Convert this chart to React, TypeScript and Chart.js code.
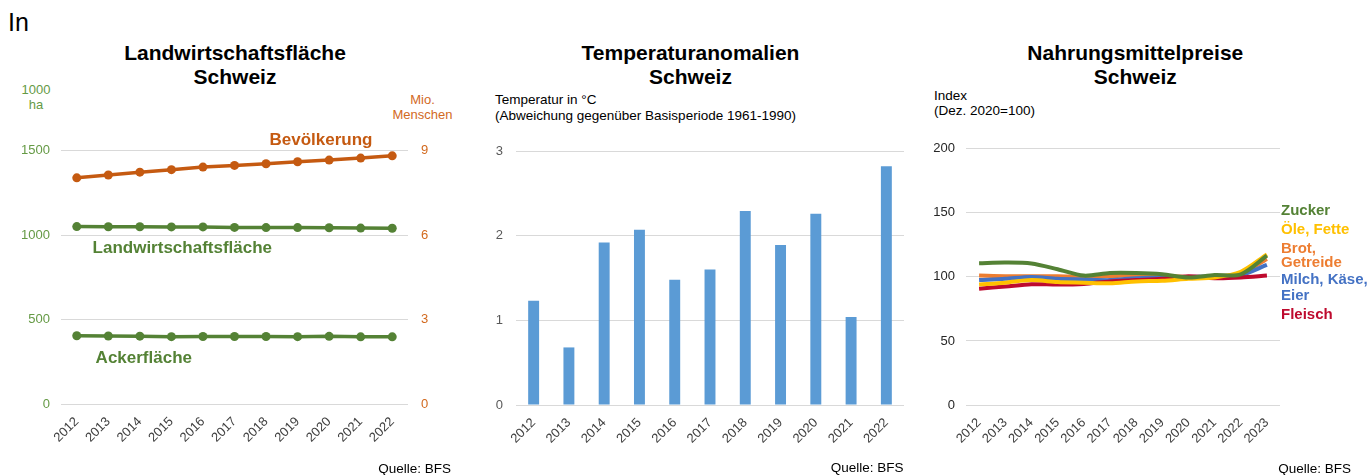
import React, { useEffect, useRef } from 'react';
import { Chart, registerables } from 'chart.js';
Chart.register(...registerables);

const FONT = '"Liberation Sans", Arial, Helvetica, sans-serif';
Chart.defaults.font.family = FONT;

// ---------- Data ----------
const years1 = ['2012', '2013', '2014', '2015', '2016', '2017', '2018', '2019', '2020', '2021', '2022'];
const population = [8.04, 8.14, 8.24, 8.33, 8.42, 8.48, 8.54, 8.61, 8.67, 8.74, 8.82];
const farmland = [1051, 1050, 1050, 1049, 1049, 1046, 1045, 1045, 1044, 1042, 1041];
const arable = [404, 403, 402, 399, 400, 400, 400, 399, 401, 398, 398];

const years2 = ['2012', '2013', '2014', '2015', '2016', '2017', '2018', '2019', '2020', '2021', '2022'];
const tempAnomaly = [1.23, 0.68, 1.92, 2.07, 1.48, 1.6, 2.29, 1.89, 2.26, 1.04, 2.82];

const years3 = ['2012', '2013', '2014', '2015', '2016', '2017', '2018', '2019', '2020', '2021', '2022', '2023'];
const sugar = [110.7, 111.2, 110.5, 106, 101, 103, 103, 102, 99.5, 101.5, 102, 116.6];
const oils = [94, 95.5, 97.5, 96, 95.5, 95, 96.5, 97, 98.5, 99.5, 104, 117.5];
const bread = [101, 100.5, 100.5, 100.5, 100, 100.5, 101.5, 101, 100, 100.5, 102.5, 114];
const dairy = [97.5, 98.5, 100, 98.5, 98, 97.5, 99, 99.5, 100, 100.5, 101.5, 109.4];
const meat = [90.8, 92.5, 94.3, 94, 94.5, 96.5, 97.5, 98.5, 100.5, 99, 99.5, 101];

const ticks1Left = { min: 0, max: 1500, step: 500 };
const ticks1Right = { min: 0, max: 9, step: 3 };
const ticks2 = { min: 0, max: 3, step: 1 };
const ticks3 = { min: 0, max: 200, step: 50 };

// ---------- Styles ----------
const GRID = '#D9D9D9';
const XLBL = '#404040';
const GREEN = '#548235';
const GREEN_TXT = '#659A45';
const ORANGE = '#C55A11';
const ORANGE_TXT = '#D2691E';
const BLUE_BAR = '#5B9BD5';
const C_SUGAR = '#548235';
const C_OILS = '#FFC000';
const C_BREAD = '#ED7D31';
const C_DAIRY = '#4472C4';
const C_MEAT = '#BE0A2E';

const tickFont = { size: 13, family: FONT };

const xAxis = (h: number) => ({
  type: 'category' as const,
  offset: true,
  grid: { display: false, drawTicks: false },
  border: { display: false },
  ticks: { color: XLBL, font: tickFont, minRotation: 45, maxRotation: 45, padding: 10, autoSkip: false },
  afterFit: (s: any) => { s.height = h; },
});

const yAxis = (pos: 'left' | 'right', t: { min: number; max: number; step: number }, color: string, w: number, pad: number, grid: boolean) => ({
  position: pos,
  min: t.min,
  max: t.max,
  grid: { display: grid, color: GRID, lineWidth: 1, drawTicks: false },
  border: { display: false },
  ticks: { stepSize: t.step, color, font: tickFont, padding: pad, callback: (v: any) => String(v) },
  afterFit: (s: any) => { s.width = w; },
});

const basePlugins = { legend: { display: false }, tooltip: { enabled: false } };

function config1(): any {
  const green = { borderColor: GREEN, backgroundColor: GREEN, pointBackgroundColor: GREEN, borderWidth: 3.5, pointRadius: 4.5, pointHoverRadius: 4.5, pointBorderWidth: 0, yAxisID: 'y' };
  return {
    type: 'line',
    data: {
      labels: years1,
      datasets: [
        { data: population, yAxisID: 'yR', borderColor: ORANGE, backgroundColor: ORANGE, pointBackgroundColor: ORANGE, borderWidth: 3.5, pointRadius: 4.5, pointHoverRadius: 4.5, pointBorderWidth: 0 },
        { data: farmland, ...green },
        { data: arable, ...green },
      ],
    },
    options: {
      responsive: false,
      animation: false,
      layout: { padding: { top: 20, left: 0, right: 0, bottom: 0 } },
      plugins: basePlugins,
      scales: {
        x: xAxis(71),
        y: yAxis('left', ticks1Left, GREEN_TXT, 61, 11, true),
        yR: yAxis('right', ticks1Right, ORANGE_TXT, 52, 13, false),
      },
    },
  };
}

function config2(): any {
  return {
    type: 'bar',
    data: {
      labels: years2,
      datasets: [{ data: tempAnomaly, backgroundColor: BLUE_BAR, borderWidth: 0, barPercentage: 0.31, categoryPercentage: 1 }],
    },
    options: {
      responsive: false,
      animation: false,
      layout: { padding: { top: 21, left: 0, right: 16, bottom: 0 } },
      plugins: basePlugins,
      scales: {
        x: xAxis(70),
        y: yAxis('left', ticks2, '#595959', 56, 13, true),
      },
    },
  };
}

function config3(): any {
  const ln = (data: number[], color: string) => ({ data, borderColor: color, backgroundColor: color, borderWidth: 4, pointRadius: 0, pointHoverRadius: 0, tension: 0.3 });
  return {
    type: 'line',
    data: {
      labels: years3,
      datasets: [ln(sugar, C_SUGAR), ln(oils, C_OILS), ln(meat, C_MEAT), ln(dairy, C_DAIRY), ln(bread, C_BREAD)],
    },
    options: {
      responsive: false,
      animation: false,
      layout: { padding: { top: 16, left: 0, right: 91, bottom: 0 } },
      plugins: basePlugins,
      scales: {
        x: xAxis(70),
        y: yAxis('left', ticks3, '#262626', 46, 11, true),
      },
    },
  };
}

function ChartCanvas({ left, top, width, height, make }: { left: number; top: number; width: number; height: number; make: () => any }) {
  const ref = useRef<HTMLCanvasElement>(null);
  useEffect(() => {
    const chart = new Chart(ref.current as HTMLCanvasElement, make());
    return () => chart.destroy();
  }, []);
  return <canvas ref={ref} width={width} height={height} style={{ position: 'absolute', left, top, width, height }} />;
}

function Label({ x, baseline, size, text, color = '#000', bold = false, align = 'left' }: { x: number; baseline: number; size: number; text: string; color?: string; bold?: boolean; align?: 'left' | 'center' | 'right' }) {
  const lh = size * 1.15;
  const top = baseline - ((lh - 1.117 * size) / 2 + 0.905 * size);
  const tx = align === 'center' ? 'translateX(-50%)' : align === 'right' ? 'translateX(-100%)' : 'none';
  return (
    <div style={{ position: 'absolute', left: x, top, fontFamily: FONT, fontSize: size, lineHeight: `${lh}px`, fontWeight: bold ? 700 : 400, color, whiteSpace: 'nowrap', transform: tx }}>
      {text}
    </div>
  );
}

export default function App() {
  return (
    <div style={{ position: 'absolute', left: 0, top: 0, width: 1371, height: 475, background: '#fff', overflow: 'hidden' }}>
      <Label x={8} baseline={31} size={25} text="In" />

      {/* Panel 1 */}
      <Label x={235} baseline={60} size={21} bold align="center" text="Landwirtschaftsfläche" />
      <Label x={235} baseline={84} size={21} bold align="center" text="Schweiz" />
      <Label x={36} baseline={95} size={13} align="center" color={GREEN_TXT} text="1000" />
      <Label x={36} baseline={109.5} size={13} align="center" color={GREEN_TXT} text="ha" />
      <Label x={422.5} baseline={104.5} size={13} align="center" color={ORANGE_TXT} text="Mio." />
      <Label x={422.5} baseline={120} size={13} align="center" color={ORANGE_TXT} text="Menschen" />
      <ChartCanvas left={0} top={130} width={460} height={345} make={config1} />
      <Label x={321} baseline={145.5} size={17} bold align="center" color={ORANGE} text="Bevölkerung" />
      <Label x={182.3} baseline={253.5} size={17} bold align="center" color={GREEN} text="Landwirtschaftsfläche" />
      <Label x={143.8} baseline={363.5} size={17} bold align="center" color={GREEN} text="Ackerfläche" />
      <Label x={451} baseline={473} size={13.5} align="right" color="#000" text="Quelle: BFS" />

      {/* Panel 2 */}
      <Label x={690.5} baseline={60} size={21} bold align="center" text="Temperaturanomalien" />
      <Label x={690.5} baseline={84} size={21} bold align="center" text="Schweiz" />
      <Label x={495} baseline={104.5} size={13.5} text="Temperatur in °C" />
      <Label x={495} baseline={120} size={13.5} text="(Abweichung gegenüber Basisperiode 1961-1990)" />
      <ChartCanvas left={460} top={130} width={460} height={345} make={config2} />
      <Label x={903.5} baseline={472} size={13.5} align="right" color="#000" text="Quelle: BFS" />

      {/* Panel 3 */}
      <Label x={1135.3} baseline={60} size={21} bold align="center" text="Nahrungsmittelpreise" />
      <Label x={1135.3} baseline={84} size={21} bold align="center" text="Schweiz" />
      <Label x={934} baseline={100.5} size={13.5} text="Index" />
      <Label x={934} baseline={115.5} size={13.5} text="(Dez. 2020=100)" />
      <ChartCanvas left={920} top={130} width={451} height={345} make={config3} />
      <Label x={1281} baseline={215} size={15} bold color={C_SUGAR} text="Zucker" />
      <Label x={1281} baseline={233.5} size={15} bold color={C_OILS} text="Öle, Fette" />
      <Label x={1281} baseline={252.7} size={15} bold color={C_BREAD} text="Brot," />
      <Label x={1281} baseline={267.3} size={15} bold color={C_BREAD} text="Getreide" />
      <Label x={1281} baseline={284.3} size={15} bold color={C_DAIRY} text="Milch, Käse," />
      <Label x={1281} baseline={300} size={15} bold color={C_DAIRY} text="Eier" />
      <Label x={1281} baseline={319.3} size={15} bold color={C_MEAT} text="Fleisch" />
      <Label x={1351} baseline={473} size={13.5} align="right" color="#000" text="Quelle: BFS" />
    </div>
  );
}
